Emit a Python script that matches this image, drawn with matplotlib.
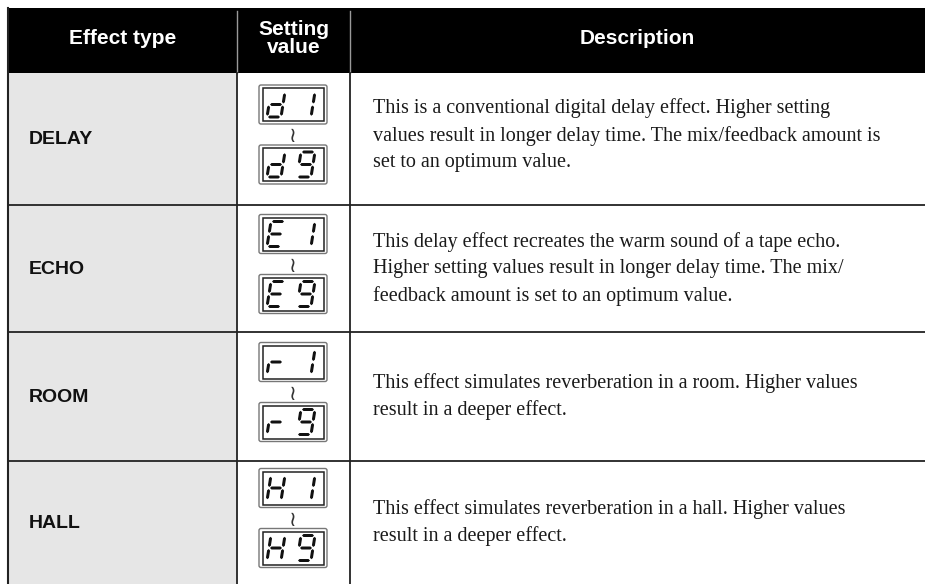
import matplotlib
matplotlib.use('Agg')
import matplotlib.pyplot as plt
from matplotlib.patches import Rectangle, FancyBboxPatch, Polygon
import numpy as np

# Table content
headers = ['Effect type', 'Setting\nvalue', 'Description']
effect_types = ['DELAY', 'ECHO', 'ROOM', 'HALL']
setting_first = [('d', '1'), ('E', '1'), ('r', '1'), ('H', '1')]
setting_last = [('d', '9'), ('E', '9'), ('r', '9'), ('H', '9')]
descriptions = [
    ['This is a conventional digital delay effect. Higher setting',
     'values result in longer delay time. The mix/feedback amount is',
     'set to an optimum value.'],
    ['This delay effect recreates the warm sound of a tape echo.',
     'Higher setting values result in longer delay time. The mix/',
     'feedback amount is set to an optimum value.'],
    ['This effect simulates reverberation in a room. Higher values',
     'result in a deeper effect.'],
    ['This effect simulates reverberation in a hall. Higher values',
     'result in a deeper effect.'],
]

# layout (pixel units)
W, H = 925, 584
left, col1, col2, right = 8, 237, 350, 925
head_top, head_bot = 8, 73
row_edges = [73, 205, 332, 461, 584]
text_shift = [1.5, 5, 5, 5]
text_left = 373
line_gap = 27
desc_size = 14.5

segments = {
    'a': ((0.07, 1), (0.93, 1)), 'b': ((1, 0.95), (1, 0.54)),
    'c': ((1, 0.46), (1, 0.05)), 'd': ((0.07, 0), (0.93, 0)),
    'e': ((0, 0.46), (0, 0.05)), 'f': ((0, 0.95), (0, 0.54)),
    'g': ((0.07, 0.5), (0.93, 0.5)),
}
glyphs = {'d': 'bcdeg', '1': 'bc', '9': 'abcdfg', 'E': 'adefg',
          'r': 'eg', 'H': 'bcefg'}

fig = plt.figure(figsize=(W / 100, H / 100), dpi=100)
ax = fig.add_axes([0, 0, 1, 1])
ax.set_xlim(0, W)
ax.set_ylim(H, 0)
ax.axis('off')


def draw_digit(ch, x0, ybot, w=14, h=25, slant=4, r=1.5):
    for s in glyphs[ch]:
        (u1, v1), (u2, v2) = segments[s]
        P = np.array([x0 + u1 * w + v1 * slant, ybot - v1 * h])
        Q = np.array([x0 + u2 * w + v2 * slant, ybot - v2 * h])
        d = (Q - P) / np.linalg.norm(Q - P)
        n = np.array([-d[1], d[0]])
        pts = [P, P + d * r + n * r, Q - d * r + n * r, Q, Q - d * r - n * r, P + d * r - n * r]
        ax.add_patch(Polygon(pts, closed=True, color='#111111', lw=0))


def draw_display(chars, ytop):
    ax.add_patch(FancyBboxPatch((259, ytop), 68, 39, boxstyle='round,pad=0,rounding_size=2',
                                fc='white', ec='#777777', lw=1))
    ax.add_patch(Rectangle((262.5, ytop + 3), 61, 33, fc='white', ec='#222222', lw=1.1))
    draw_digit(chars[0], 267, ytop + 32)
    draw_digit(chars[1], 297, ytop + 32)


# header
ax.add_patch(Rectangle((left, head_top), right - left, head_bot - head_top, color='black', lw=0))
for xc in (col1, col2):
    ax.plot([xc, xc], [head_top + 3, head_bot], color='#9a9a9a', lw=1)
hx = [(left + col1) / 2, (col1 + col2) / 2, (col2 + right) / 2]
hy = [39, 38.5, 39]
for x, y, label in zip(hx, hy, headers):
    ax.text(x, y, label, color='white', fontsize=15,
            family='Liberation Sans', weight='bold', ha='center', va='center', linespacing=0.95)

# body
ax.add_patch(Rectangle((left, head_bot), col1 - left, H - head_bot, color='#e6e6e6', lw=0))
for i, name in enumerate(effect_types):
    top, bot = row_edges[i], row_edges[i + 1]
    c = (top + bot) / 2
    ax.text(29, c + 1, name, fontsize=14, family='Liberation Sans', weight='bold',
            ha='left', va='center', color='#111111')
    draw_display(setting_first[i], c - 54)
    draw_display(setting_last[i], c + 6)
    ax.text(293, c - 3, '≀', fontsize=15, family='DejaVu Sans', ha='center', va='center',
            color='#333333')
    lines = descriptions[i]
    y0 = c + text_shift[i] - (len(lines) - 1) * line_gap / 2
    for k, ln in enumerate(lines):
        ax.text(text_left, y0 + k * line_gap, ln, fontsize=desc_size, family='Liberation Serif',
                va='baseline', ha='left', color='#1a1a1a')
    if i > 0:
        ax.plot([left, right], [top, top], color='#222222', lw=1.3)

ax.plot([left, left], [head_top, H], color='#222222', lw=1.5)
for xc in (col1, col2):
    ax.plot([xc, xc], [head_bot, H], color='#222222', lw=1.3)

fig.savefig('out.png', dpi=100)
